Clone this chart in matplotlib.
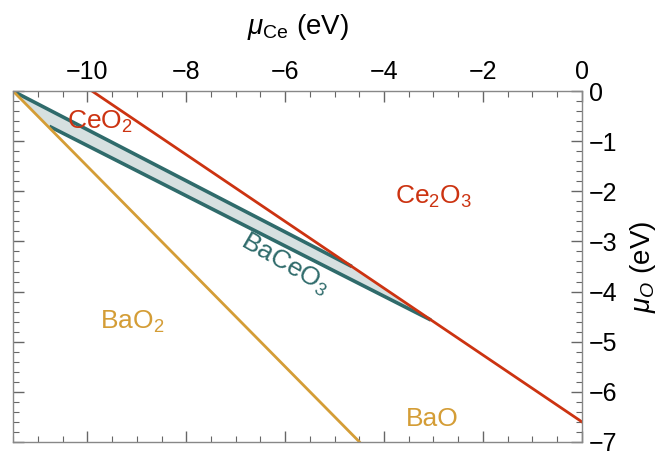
import matplotlib
matplotlib.use('Agg')
import matplotlib.pyplot as plt
from matplotlib.ticker import MultipleLocator

plt.rcParams['font.family'] = ['Liberation Sans', 'DejaVu Sans']
plt.rcParams['mathtext.fontset'] = 'custom'
plt.rcParams['mathtext.rm'] = 'Liberation Sans'
plt.rcParams['mathtext.it'] = 'Liberation Sans:italic'

# 読み取ったデータ (mu_Ce, mu_O)
ce2o3_x = [-9.9, 0.0]
ce2o3_y = [0.0, -6.6]
bao2_x = [-11.5, -4.5]
bao2_y = [0.0, -7.0]
bceo_upper_x = [-11.5, -4.65]
bceo_upper_y = [0.0, -3.50]
bceo_lower_x = [-10.77, -3.05]
bceo_lower_y = [-0.70, -4.57]
region_x = [-11.5, -4.65, -3.05, -10.77]
region_y = [0.0, -3.50, -4.57, -0.70]

red = '#cc3311'
gold = '#d49d36'
teal = '#2f6b6b'

fig = plt.figure(figsize=(6.64, 4.51), dpi=100)
ax = fig.add_axes([0.020, 0.0206, 0.856, 0.777])

ax.fill(region_x, region_y, color='#d6e0e0', lw=0)
ax.plot(bceo_upper_x, bceo_upper_y, color=teal, lw=2.6, solid_capstyle='butt')
ax.plot(bceo_lower_x, bceo_lower_y, color=teal, lw=2.6, solid_capstyle='butt')
ax.plot(bao2_x, bao2_y, color=gold, lw=2.0)
ax.plot(ce2o3_x, ce2o3_y, color=red, lw=2.0)

ax.set_xlim(-11.5, 0)
ax.set_ylim(-7, 0)

# ラベル
ax.text(-9.74, -0.62, 'CeO$_2$', color=red, fontsize=19, ha='center', va='center')
ax.text(-3.0, -2.1, 'Ce$_2$O$_3$', color=red, fontsize=19, ha='center', va='center')
ax.text(-9.1, -4.6, 'BaO$_2$', color=gold, fontsize=19, ha='center', va='center')
ax.text(-3.03, -6.55, 'BaO', color=gold, fontsize=19, ha='center', va='center')
ax.text(-6.0, -3.45, 'BaCeO$_3$', color=teal, fontsize=19, ha='center', va='center',
        rotation=-30, rotation_mode='anchor')

# 軸
ax.xaxis.set_major_locator(MultipleLocator(2))
ax.xaxis.set_minor_locator(MultipleLocator(0.5))
ax.yaxis.set_major_locator(MultipleLocator(1))
ax.yaxis.set_minor_locator(MultipleLocator(0.2))
ax.tick_params(which='both', direction='in', top=True, bottom=True, left=True, right=True,
               labeltop=True, labelbottom=False, labelleft=False, labelright=True,
               color='#666666', labelsize=18, pad=5)
ax.tick_params(which='major', length=8, width=1)
ax.tick_params(which='minor', length=4, width=0.8)
for s in ax.spines.values():
    s.set_color('#888888')
    s.set_linewidth(1)

ax.xaxis.set_label_position('top')
ax.yaxis.set_label_position('right')
ax.set_xlabel(r'$\mu_{\mathrm{Ce}}$ (eV)', fontsize=20, labelpad=19)
ax.set_ylabel(r'$\mu_{O}$ (eV)', fontsize=20, labelpad=8)

fig.savefig('out.png', dpi=100)
